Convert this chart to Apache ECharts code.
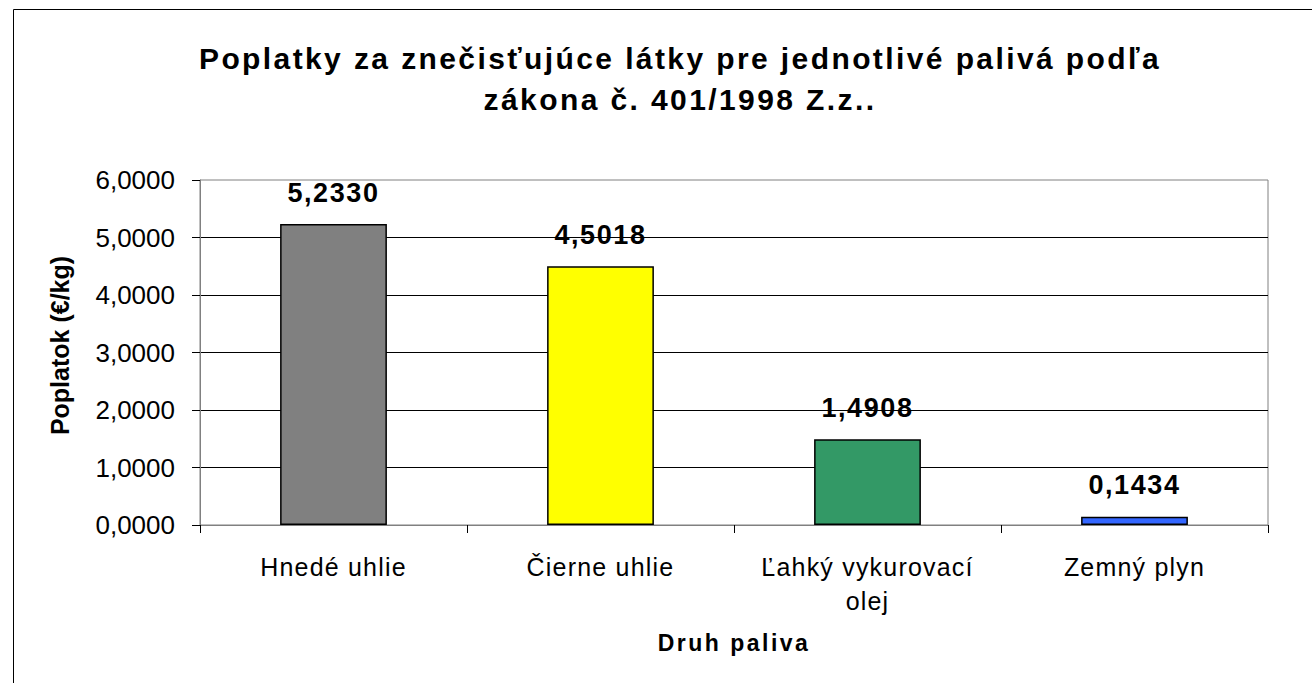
<!DOCTYPE html>
<html>
<head>
<meta charset="utf-8">
<script src="https://cdn.jsdelivr.net/npm/echarts@6/dist/echarts.min.js"></script>
<style>
	html, body { margin: 0; padding: 0; background: #fff; }
	#chart { width: 1312px; height: 683px; }
	/* the reference draws its text a little letter-spaced */
	#chart text[style*="sp4"] { letter-spacing: 2.4px; }
	#chart text[style*="sp3"] { letter-spacing: 1.6px; }
	#chart text[style*="sp2"] { letter-spacing: 1.2px; }
	#chart text[style*="sp5"] { letter-spacing: 2.5px; }
</style>
</head>
<body>
<div id="chart"></div>
<script>
	// data
	var categories = ['Hnedé uhlie', 'Čierne uhlie', 'Ľahký vykurovací\nolej', 'Zemný plyn'];
	var values = [5.2330, 4.5018, 1.4908, 0.1434];
	var barColors = ['#808080', '#ffff00', '#339966', '#3366ff'];

	var fmt = function(v) {
		return Number(v).toFixed(4).replace('.', ',');
	};

	var myChart = echarts.init(document.getElementById('chart'), null, { renderer: 'svg' });
	var font = 'Liberation Sans, Arial, sans-serif';

	var option = {
		animation: false,
		backgroundColor: '#fff',
		textStyle: { fontFamily: font },
		graphic: [{
			type: 'rect',
			shape: { x: 13.5, y: 9.5, width: 1340, height: 700 },
			style: { fill: 'none', stroke: '#000', lineWidth: 1 },
			silent: true
		}],
		title: {
			text: 'Poplatky za znečisťujúce látky pre jednotlivé palivá podľa\nzákona č. 401/1998 Z.z..',
			left: 675,
			textAlign: 'center',
			top: 33,
			textStyle: {
				fontFamily: 'Liberation Sans, Arial, sp4',
				fontSize: 30,
				fontWeight: 'bold',
				color: '#000',
				lineHeight: 41
			}
		},
		grid: {
			left: 200,
			right: 44,
			top: 180,
			bottom: 158,
			show: true,
			borderColor: '#808080',
			borderWidth: 1
		},
		xAxis: {
			type: 'category',
			data: categories,
			name: 'Druh paliva',
			nameLocation: 'middle',
			nameGap: 106,
			nameTextStyle: { fontFamily: 'Liberation Sans, Arial, sp5', fontSize: 23, fontWeight: 'bold', color: '#000' },
			axisLine: { lineStyle: { color: '#808080', width: 1 } },
			axisTick: { show: true, length: 8, lineStyle: { color: '#000' } },
			axisLabel: {
				fontFamily: 'Liberation Sans, Arial, sp2',
				fontSize: 25,
				color: '#000',
				margin: 25,
				lineHeight: 34,
				interval: 0
			}
		},
		yAxis: {
			type: 'value',
			min: 0,
			max: 6,
			interval: 1,
			name: 'Poplatok (€/kg)',
			nameLocation: 'middle',
			nameRotate: 90,
			nameGap: 128,
			nameTextStyle: {
				fontFamily: font,
				fontSize: 25,
				fontWeight: 'bold',
				color: '#000',
				padding: [0, 0, 0, 14]
			},
			axisLine: { show: true, lineStyle: { color: '#808080', width: 1 } },
			axisTick: { show: true, length: 8, lineStyle: { color: '#000' } },
			splitLine: { showMaxLine: false, lineStyle: { color: '#000', width: 1 } },
			axisLabel: {
				fontFamily: font,
				fontSize: 26,
				color: '#000',
				margin: 25,
				formatter: fmt
			}
		},
		series: [{
			type: 'bar',
			barWidth: '40%',
			data: values.map(function(v, i) {
				return { value: v, itemStyle: { color: barColors[i] } };
			}),
			itemStyle: { borderColor: '#000', borderWidth: 1.5 },
			label: {
				show: true,
				position: 'top',
				distance: 18,
				fontFamily: 'Liberation Sans, Arial, sp3',
				fontSize: 27,
				fontWeight: 'bold',
				color: '#000',
				formatter: function(p) { return fmt(p.value); }
			}
		}]
	};

	myChart.setOption(option);
</script>
</body>
</html>
